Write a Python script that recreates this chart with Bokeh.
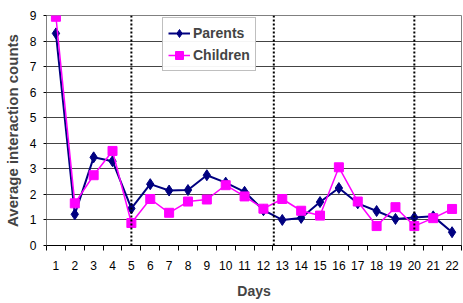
from bokeh.plotting import figure
from bokeh.models import FixedTicker, Span, Range1d, Legend, LegendItem
from bokeh.embed import file_html
from bokeh.resources import INLINE

days = list(range(1, 23))
parents = [8.3, 1.22, 3.45, 3.3, 1.45, 2.4, 2.15, 2.17, 2.75, 2.46, 2.1, 1.38, 1.0, 1.08,
           1.7, 2.25, 1.65, 1.35, 1.04, 1.1, 1.14, 0.52]
children = [8.95, 1.65, 2.75, 3.7, 0.88, 1.82, 1.28, 1.72, 1.8, 2.36, 1.92, 1.44, 1.82, 1.36,
            1.17, 3.06, 1.72, 0.76, 1.5, 0.76, 1.07, 1.43]
separators = [5, 12.55, 20]
y_ticks = list(range(0, 10))

p = figure(output_backend="svg", toolbar_location=None,
           frame_width=415, frame_height=230,
           min_border_left=43, min_border_right=1, min_border_top=15, min_border_bottom=50,
           x_range=Range1d(0.5, 22.5), y_range=Range1d(0, 9))
p.background_fill_color = "white"
p.outline_line_color = "#808080"

FONT = "Liberation Sans"

p.xaxis.ticker = FixedTicker(ticks=days, minor_ticks=[d + 0.5 for d in range(0, 23)])
p.xaxis.major_tick_line_color = None
p.xaxis.minor_tick_line_color = "black"
p.xaxis.minor_tick_out = 5
p.xaxis.minor_tick_in = 0
p.xaxis.major_label_standoff = 9
p.xaxis.major_label_text_font = FONT
p.xaxis.major_label_text_font_size = "12px"
p.xaxis.major_label_text_color = "black"
p.xaxis.axis_label = "Days"
p.xaxis.axis_label_text_font = FONT
p.xaxis.axis_label_text_font_style = "bold"
p.xaxis.axis_label_text_font_size = "14px"
p.xaxis.axis_label_standoff = 10
p.xaxis.axis_line_color = "black"

p.yaxis.ticker = FixedTicker(ticks=y_ticks)
p.yaxis.minor_tick_line_color = None
p.yaxis.major_tick_out = 3
p.yaxis.major_tick_in = 0
p.yaxis.major_label_standoff = 7
p.yaxis.major_label_text_font = FONT
p.yaxis.major_label_text_font_size = "12px"
p.yaxis.major_label_text_color = "black"
p.yaxis.axis_label = "Average interaction counts"
p.yaxis.axis_label_text_font = FONT
p.yaxis.axis_label_text_font_style = "bold"
p.yaxis.axis_label_text_font_size = "15px"
p.yaxis.axis_label_standoff = 6
p.yaxis.axis_line_color = "#808080"

p.xgrid.grid_line_color = None
p.ygrid.ticker = FixedTicker(ticks=y_ticks)
p.ygrid.grid_line_color = "#444444"
p.ygrid.grid_line_width = 1

for s in separators:
    p.add_layout(Span(location=s, dimension="height", line_color="black",
                      line_dash="2 2", line_width=2))

pl = p.line(days, parents, line_color="#000080", line_width=2)
ps = p.scatter(days, parents, marker="diamond", size=11, fill_color="#000080",
               line_color="#000080")
cl = p.line(days, children, line_color="#FF00FF", line_width=1.5)
cs = p.scatter(days, children, marker="square", size=9, fill_color="#FF00FF",
               line_color="#FF00FF")

legend = Legend(items=[LegendItem(label="Parents", renderers=[pl, ps]),
                       LegendItem(label="Children", renderers=[cl, cs])],
                location=(116, 174))
legend.label_text_font = FONT
legend.label_text_font_style = "bold"
legend.label_text_font_size = "14px"
legend.border_line_color = "#808080"
legend.border_line_width = 1
legend.glyph_width = 22
legend.spacing = 2
legend.padding = 5
legend.margin = 0
legend.label_standoff = 3
p.add_layout(legend)

open("out.html", "w").write(file_html(p, INLINE))
